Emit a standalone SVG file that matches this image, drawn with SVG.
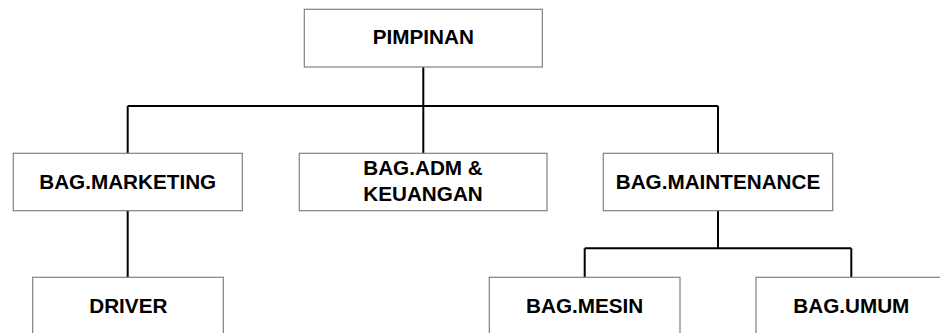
<svg xmlns="http://www.w3.org/2000/svg" width="940" height="333" viewBox="0 0 940 333">
  <style>
    .box { fill: #ffffff; stroke: #808080; stroke-width: 1.2; }
    .lbl { font-family: "Liberation Sans", Arial, sans-serif; font-weight: bold; font-size: 20.7px; fill: #000000; text-anchor: middle; }
    .wire { fill: none; stroke: #000000; stroke-width: 2; }
  </style>
  <rect width="940" height="333" fill="#ffffff"/>

  <g id="connectors">
    <path class="wire" d="M423.3,67 V153.3"/>
    <path class="wire" d="M127.7,106 H718"/>
    <path class="wire" d="M127.7,106 V153.3"/>
    <path class="wire" d="M718,106 V153.3"/>
    <path class="wire" d="M127.7,210.7 V277.3"/>
    <path class="wire" d="M718,210.7 V248.3"/>
    <path class="wire" d="M584.7,248.3 H851.3"/>
    <path class="wire" d="M584.7,248.3 V277.3"/>
    <path class="wire" d="M851.3,248.3 V277.3"/>
  </g>

  <g id="pimpinan">
    <rect class="box" x="304.3" y="9.3" width="238" height="57.7"/>
    <text class="lbl" x="423.3" y="44.3">PIMPINAN</text>
  </g>

  <g id="bag-marketing">
    <rect class="box" x="13.3" y="153.3" width="229" height="57.4"/>
    <text class="lbl" x="127.7" y="189.3">BAG.MARKETING</text>
  </g>

  <g id="bag-adm-keuangan">
    <rect class="box" x="299.3" y="153.3" width="247.7" height="57.4"/>
    <text class="lbl" x="423" y="175">BAG.ADM &amp;</text>
    <text class="lbl" x="423" y="201">KEUANGAN</text>
  </g>

  <g id="bag-maintenance">
    <rect class="box" x="603.3" y="153.3" width="229.4" height="57.4"/>
    <text class="lbl" x="718" y="189.3">BAG.MAINTENANCE</text>
  </g>

  <g id="driver">
    <rect class="box" x="32.7" y="277.3" width="190.6" height="70"/>
    <text class="lbl" x="128.3" y="313.3">DRIVER</text>
  </g>

  <g id="bag-mesin">
    <rect class="box" x="489.3" y="277.3" width="190.7" height="70"/>
    <text class="lbl" x="584.7" y="313.3">BAG.MESIN</text>
  </g>

  <g id="bag-umum">
    <rect class="box" x="756" y="277.3" width="200" height="70"/>
    <text class="lbl" x="851.3" y="313.3">BAG.UMUM</text>
  </g>
</svg>
